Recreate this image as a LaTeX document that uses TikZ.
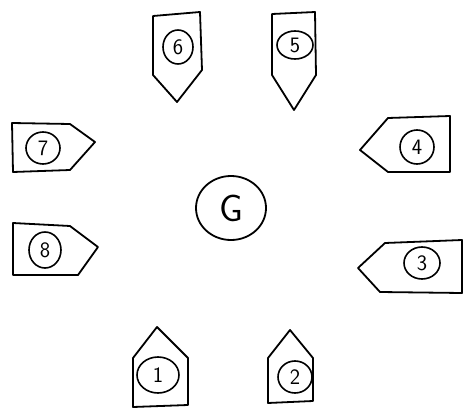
\documentclass[tikz,border=0pt]{standalone}
\usetikzlibrary{shapes.geometric}
\begin{document}
\begin{tikzpicture}[x=1pt,y=-1pt,
  plate/.style={line width=1.8pt,line join=round,line cap=round},
  num/.style={ellipse,draw,line width=1.6pt,inner sep=0pt,font=\sffamily\fontsize{22}{22}\selectfont},
  big/.style={ellipse,draw,line width=1.8pt,inner sep=0pt,minimum width=70pt,minimum height=64pt,font=\sffamily\fontsize{38}{38}\selectfont}]
\useasboundingbox (0,0) rectangle (466,415);
% top plates
\draw[plate] (153,75) -- (153,16) -- (200,12) -- (202,70) -- (177,102) -- cycle;
\draw[plate] (272,75) -- (272,14) -- (315,12) -- (316,75) -- (294,110) -- cycle;
% left plates
\draw[plate] (70,124) -- (12,123) -- (13,172) -- (70,170) -- (95,142) -- cycle;
\draw[plate] (70,226) -- (13,223) -- (13,275) -- (78,275) -- (98,247) -- cycle;
% right plates
\draw[plate] (388,118) -- (450,116) -- (450,172) -- (388,172) -- (360,150) -- cycle;
\draw[plate] (385,243) -- (462,240) -- (462,293) -- (380,292) -- (358,268) -- cycle;
% bottom plates
\draw[plate] (133,358) -- (133,407) -- (188,405) -- (188,358) -- (157,327) -- cycle;
\draw[plate] (268,358) -- (268,403) -- (313,401) -- (313,358) -- (290,330) -- cycle;
% numbered circles
\node[num,minimum width=30pt,minimum height=34pt] (n6) at (178,47) {6};
\node[num,minimum width=36pt,minimum height=28pt] (n5) at (295,45) {5};
\node[num,minimum width=34pt,minimum height=32pt] (n7) at (43,148) {7};
\node[num,minimum width=32pt,minimum height=36pt] (n8) at (45,250) {8};
\node[num,minimum width=34pt,minimum height=34pt] (n4) at (417,147) {4};
\node[num,minimum width=36pt,minimum height=32pt] (n3) at (422,263) {3};
\node[num,minimum width=42pt,minimum height=36pt] (n1) at (158,375) {1};
\node[num,minimum width=34pt,minimum height=32pt] (n2) at (295,377) {2};
\node[big] (g) at (231,208) {G};
\end{tikzpicture}
\end{document}
